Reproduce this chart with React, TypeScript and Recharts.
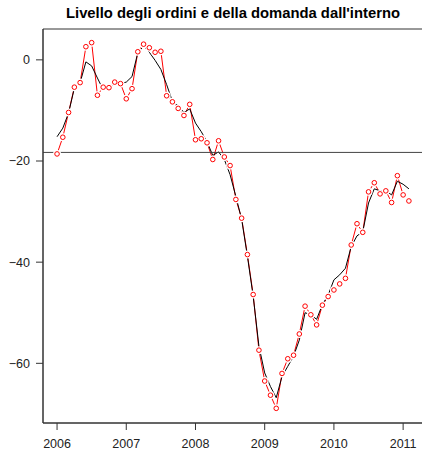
import React from 'react';
import { LineChart, Line, XAxis, YAxis, ReferenceLine, ReferenceArea } from 'recharts';

// monthly survey balance, Jan 2006 .. Feb 2011
const startYear = 2006;
const yearTicks = [2006, 2007, 2008, 2009, 2010, 2011];
const valueTicks = [0, -20, -40, -60];

const observed = [
  -18.6, -15.3, -10.4, -5.4, -4.5, 2.6, 3.4, -7.0, -5.4, -5.5, -4.4, -4.7,
  -7.7, -5.7, 1.6, 3.1, 2.4, 1.5, 1.7, -7.1, -8.3, -9.6, -11.0, -8.8,
  -15.8, -15.6, -16.4, -19.7, -16.0, -19.2, -20.9, -27.6, -31.3, -38.5, -46.4, -57.4,
  -63.5, -66.3, -68.9, -62.0, -59.1, -58.4, -54.2, -48.7, -50.4, -52.4, -48.5, -46.8,
  -45.5, -44.3, -43.2, -36.6, -32.4, -34.1, -26.1, -24.3, -26.5, -25.9, -28.2, -22.9,
  -26.7, -27.9,
];

const trend = [
  -15.2, -13.5, -10.5, -5.6, -4.5, -0.4, -1.2, -3.6, -5.9, -5.5, -4.6, -4.7,
  -4.4, -3.3, 1.4, 2.7, 1.5, -0.1, -1.9, -4.9, -8.2, -9.1, -10.4, -9.7,
  -12.5, -14.2, -16.2, -18.9, -18.2, -19.7, -22.7, -27.0, -31.5, -38.8, -46.7, -56.6,
  -61.9, -64.6, -66.8, -62.6, -60.6, -58.6, -55.4, -50.0, -50.4, -51.3, -48.4, -46.5,
  -43.5, -42.5, -41.2, -36.9, -34.8, -34.0, -28.3, -25.5, -25.9, -25.9, -26.7, -24.0,
  -24.6, -25.5,
];

const referenceLevel = -18.3;
const xDomain: [number, number] = [2005.797, 2011.287];
const yDomain: [number, number] = [-71.8, 6.1];

const data = observed.map((v, i) => ({
  t: startYear + i / 12,
  observed: v,
  trend: trend[i],
}));

const font = '"Liberation Sans", Arial, Helvetica, sans-serif';
const fmt = (v: number) => (v < 0 ? '\u2212' + Math.abs(v) : String(v));

// white halo under each point so the red connecting line has gaps (R type="b")
const renderHalo = (props: any) => (
  <circle key={`h-${props.index}`} cx={props.cx} cy={props.cy} r={4} fill="#fff" stroke="none" />
);

export default function App() {
  return (
    <div style={{ position: 'absolute', left: 0, top: 0, width: 422, height: 451, overflow: 'hidden', background: '#fff' }}>
      <div
        style={{
          position: 'absolute',
          left: 43,
          top: 6,
          width: 380,
          textAlign: 'center',
          fontFamily: font,
          fontWeight: 'bold',
          fontSize: 14.8,
          lineHeight: '15px',
          color: '#000',
          whiteSpace: 'nowrap',
        }}
      >
        Livello degli ordini e della domanda dall'interno
      </div>
      <LineChart width={430} height={451} data={data} margin={{ top: 29, right: 7, bottom: 0, left: 0 }}>
        <XAxis
          dataKey="t"
          type="number"
          domain={xDomain}
          ticks={yearTicks}
          height={28}
          tickSize={7}
          tickMargin={9}
          stroke="#333"
          tick={{ fill: '#222', fontSize: 12.5, fontFamily: font }}
          allowDataOverflow
        />
        <YAxis
          type="number"
          domain={yDomain}
          ticks={valueTicks}
          width={43}
          tickSize={7}
          tickMargin={6}
          stroke="#333"
          tickFormatter={fmt}
          tick={{ fill: '#222', fontSize: 12.5, fontFamily: font }}
          allowDataOverflow
        />
        <ReferenceArea
          x1={xDomain[0]}
          x2={xDomain[1]}
          y1={yDomain[0]}
          y2={yDomain[1]}
          fill="none"
          stroke="#333"
          ifOverflow="visible"
        />
        <Line
          type="linear"
          dataKey="observed"
          stroke="#ff0000"
          strokeWidth={1}
          dot={renderHalo}
          activeDot={false}
          isAnimationActive={false}
        />
        <Line
          type="linear"
          dataKey="trend"
          stroke="#000"
          strokeWidth={1}
          dot={false}
          activeDot={false}
          isAnimationActive={false}
        />
        <ReferenceLine y={referenceLevel} stroke="#444" strokeWidth={1} />
        <Line
          type="linear"
          dataKey="observed"
          stroke="none"
          dot={{ r: 2.3, stroke: '#ff0000', strokeWidth: 1, fill: 'none' }}
          activeDot={false}
          isAnimationActive={false}
        />
      </LineChart>
    </div>
  );
}
